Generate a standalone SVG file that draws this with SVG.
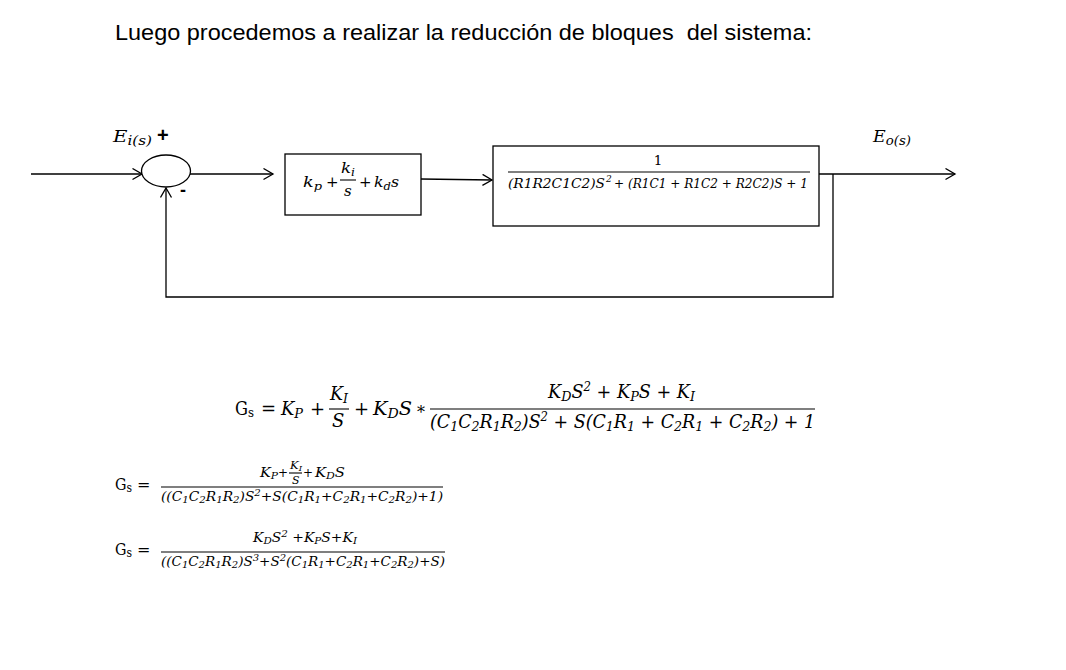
<svg xmlns="http://www.w3.org/2000/svg" width="1066" height="670" viewBox="0 0 1066 670">
<defs>
<marker id="ah" markerUnits="userSpaceOnUse" markerWidth="12" markerHeight="13" refX="10.5" refY="6" orient="auto">
<path d="M1,0.5 L10.5,6 L1,11.5" fill="none" stroke="#000" stroke-width="1.3"/>
</marker>
</defs>
<style>
.t{font-family:"Liberation Sans",Arial,sans-serif;fill:#000}
.m{font-family:"DejaVu Serif","Liberation Serif",serif;font-style:italic;fill:#000}
.u{font-style:normal}
.ln{stroke:#000;stroke-width:1.3;fill:none}
.fr{stroke:#000;stroke-width:1.1}
.box{fill:#fff;stroke:#000;stroke-width:1.3}
</style>
<rect width="1066" height="670" fill="#fff"/>

<text class="t" x="115" y="40" font-size="22" textLength="697" lengthAdjust="spacingAndGlyphs" style="white-space:pre">Luego procedemos a realizar la reducción de bloques  del sistema:</text>

<g id="connectors">
<line class="ln" x1="31" y1="174" x2="142" y2="174" marker-end="url(#ah)"/>
<line class="ln" x1="190" y1="174" x2="273" y2="174" marker-end="url(#ah)"/>
<line class="ln" x1="421" y1="179" x2="492" y2="180" marker-end="url(#ah)"/>
<line class="ln" x1="819" y1="174" x2="955" y2="174" marker-end="url(#ah)"/>
<polyline class="ln" points="833,174 833,297 166,297 166,188" marker-end="url(#ah)"/>
</g>

<g id="sum">
<ellipse cx="166" cy="171" rx="24.5" ry="16" fill="#fff" stroke="#000" stroke-width="1.3"/>
<text class="t" x="157" y="142" font-size="20" font-weight="bold">+</text>
<text class="t" x="180" y="196" font-size="18" font-weight="bold">-</text>
</g>

<g id="label-in">
<text class="m" x="113" y="142" font-size="17" textLength="39" lengthAdjust="spacingAndGlyphs">E<tspan font-size="13" dy="3">i(s)</tspan></text>
</g>
<g id="label-out">
<text class="m" x="873" y="142" font-size="17" textLength="38" lengthAdjust="spacingAndGlyphs">E<tspan font-size="13" dy="3">o(s)</tspan></text>
</g>

<g id="block1">
<rect class="box" x="285" y="154" width="136" height="61"/>
<text class="m" x="303" y="187" font-size="15" textLength="19" lengthAdjust="spacingAndGlyphs">k<tspan font-size="11" dy="3">p</tspan></text>
<text class="m u" x="326" y="187" font-size="15">+</text>
<text class="m" x="341" y="173" font-size="15" textLength="14" lengthAdjust="spacingAndGlyphs">k<tspan font-size="11" dy="3">i</tspan></text>
<line class="fr" x1="340" y1="180" x2="356" y2="180"/>
<text class="m" x="344" y="196" font-size="15">s</text>
<text class="m u" x="359" y="187" font-size="15">+</text>
<text class="m" x="374" y="187" font-size="15" textLength="25" lengthAdjust="spacingAndGlyphs">k<tspan font-size="11" dy="3">d</tspan><tspan dy="-3">s</tspan></text>
</g>

<g id="block2">
<rect class="box" x="493" y="146" width="326" height="80"/>
<text class="m u" x="658" y="165" font-size="13.5" text-anchor="middle">1</text>
<line class="fr" x1="508" y1="172" x2="810" y2="172"/>
<text class="m" x="508" y="188" font-size="13.5" textLength="97" lengthAdjust="spacingAndGlyphs">(R1R2C1C2)S</text>
<text class="m" x="606" y="182" font-size="9">2</text>
<text class="m" x="614" y="188" font-size="13.5" textLength="194" lengthAdjust="spacingAndGlyphs">+ (R1C1 + R1C2 + R2C2)S + 1</text>
</g>

<g id="eq1">
<text class="m u" x="235" y="415" font-size="18" textLength="19" lengthAdjust="spacingAndGlyphs">G<tspan font-size="13" dy="2">s</tspan></text>
<text class="m u" x="261" y="415" font-size="18">=</text>
<text class="m" x="281" y="415" font-size="18" textLength="22" lengthAdjust="spacingAndGlyphs">K<tspan font-size="13" dy="3">P</tspan></text>
<text class="m u" x="310" y="415" font-size="18">+</text>
<text class="m" x="330" y="400" font-size="18" textLength="18" lengthAdjust="spacingAndGlyphs">K<tspan font-size="13" dy="3">I</tspan></text>
<line class="fr" x1="329" y1="409" x2="349" y2="409"/>
<text class="m" x="332" y="427" font-size="18">S</text>
<text class="m u" x="354" y="415" font-size="18">+</text>
<text class="m" x="373" y="415" font-size="18" textLength="39" lengthAdjust="spacingAndGlyphs">K<tspan font-size="13" dy="3">D</tspan><tspan dy="-3">S</tspan></text>
<text class="m u" x="417" y="418" font-size="16">*</text>
<text class="m" x="548" y="398" font-size="18" textLength="147" lengthAdjust="spacingAndGlyphs">K<tspan font-size="13" dy="3">D</tspan><tspan dy="-3">S</tspan><tspan font-size="12" dy="-7">2</tspan><tspan dy="7"> + K</tspan><tspan font-size="13" dy="3">P</tspan><tspan dy="-3">S + K</tspan><tspan font-size="13" dy="3">I</tspan></text>
<line class="fr" x1="430" y1="409" x2="815" y2="409"/>
<text class="m" x="430" y="428" font-size="18" textLength="385" lengthAdjust="spacingAndGlyphs">(C<tspan font-size="13" dy="3">1</tspan><tspan dy="-3">C</tspan><tspan font-size="13" dy="3">2</tspan><tspan dy="-3">R</tspan><tspan font-size="13" dy="3">1</tspan><tspan dy="-3">R</tspan><tspan font-size="13" dy="3">2</tspan><tspan dy="-3">)S</tspan><tspan font-size="12" dy="-7">2</tspan><tspan dy="7"> + S(C</tspan><tspan font-size="13" dy="3">1</tspan><tspan dy="-3">R</tspan><tspan font-size="13" dy="3">1</tspan><tspan dy="-3"> + C</tspan><tspan font-size="13" dy="3">2</tspan><tspan dy="-3">R</tspan><tspan font-size="13" dy="3">1</tspan><tspan dy="-3"> + C</tspan><tspan font-size="13" dy="3">2</tspan><tspan dy="-3">R</tspan><tspan font-size="13" dy="3">2</tspan><tspan dy="-3">) + 1</tspan></text>
</g>

<g id="eq2">
<text class="m u" x="115" y="490" font-size="16" textLength="17" lengthAdjust="spacingAndGlyphs">G<tspan font-size="12" dy="2">s</tspan></text>
<text class="m u" x="137" y="490" font-size="16">=</text>
<text class="m" x="260" y="477" font-size="13.5" textLength="18" lengthAdjust="spacingAndGlyphs">K<tspan font-size="10" dy="2">P</tspan></text>
<text class="m u" x="278" y="477" font-size="13" textLength="10" lengthAdjust="spacingAndGlyphs">+</text>
<text class="m" x="290" y="469" font-size="11" textLength="12" lengthAdjust="spacingAndGlyphs">K<tspan font-size="8" dy="2">I</tspan></text>
<line class="fr" x1="289" y1="473" x2="302" y2="473" stroke-width="0.9"/>
<text class="m" x="292" y="484" font-size="11">S</text>
<text class="m u" x="303" y="477" font-size="13" textLength="10" lengthAdjust="spacingAndGlyphs">+</text>
<text class="m" x="315" y="477" font-size="13.5" textLength="30" lengthAdjust="spacingAndGlyphs">K<tspan font-size="10" dy="2">D</tspan><tspan dy="-2">S</tspan></text>
<line class="fr" x1="161" y1="487" x2="443" y2="487"/>
<text class="m" x="161" y="501" font-size="13.5" textLength="282" lengthAdjust="spacingAndGlyphs">((C<tspan font-size="10" dy="2">1</tspan><tspan dy="-2">C</tspan><tspan font-size="10" dy="2">2</tspan><tspan dy="-2">R</tspan><tspan font-size="10" dy="2">1</tspan><tspan dy="-2">R</tspan><tspan font-size="10" dy="2">2</tspan><tspan dy="-2">)S</tspan><tspan font-size="10" dy="-5">2</tspan><tspan dy="5">+S(C</tspan><tspan font-size="10" dy="2">1</tspan><tspan dy="-2">R</tspan><tspan font-size="10" dy="2">1</tspan><tspan dy="-2">+C</tspan><tspan font-size="10" dy="2">2</tspan><tspan dy="-2">R</tspan><tspan font-size="10" dy="2">1</tspan><tspan dy="-2">+C</tspan><tspan font-size="10" dy="2">2</tspan><tspan dy="-2">R</tspan><tspan font-size="10" dy="2">2</tspan><tspan dy="-2">)+1)</tspan></text>
</g>

<g id="eq3">
<text class="m u" x="115" y="555" font-size="16" textLength="17" lengthAdjust="spacingAndGlyphs">G<tspan font-size="12" dy="2">s</tspan></text>
<text class="m u" x="137" y="555" font-size="16">=</text>
<text class="m" x="253" y="542" font-size="13.5" textLength="104" lengthAdjust="spacingAndGlyphs">K<tspan font-size="10" dy="2">D</tspan><tspan dy="-2">S</tspan><tspan font-size="10" dy="-5">2</tspan><tspan dy="5"> +K</tspan><tspan font-size="10" dy="2">P</tspan><tspan dy="-2">S+K</tspan><tspan font-size="10" dy="2">I</tspan></text>
<line class="fr" x1="161" y1="552" x2="445" y2="552"/>
<text class="m" x="161" y="566" font-size="13.5" textLength="284" lengthAdjust="spacingAndGlyphs">((C<tspan font-size="10" dy="2">1</tspan><tspan dy="-2">C</tspan><tspan font-size="10" dy="2">2</tspan><tspan dy="-2">R</tspan><tspan font-size="10" dy="2">1</tspan><tspan dy="-2">R</tspan><tspan font-size="10" dy="2">2</tspan><tspan dy="-2">)S</tspan><tspan font-size="10" dy="-5">3</tspan><tspan dy="5">+S</tspan><tspan font-size="10" dy="-5">2</tspan><tspan dy="5">(C</tspan><tspan font-size="10" dy="2">1</tspan><tspan dy="-2">R</tspan><tspan font-size="10" dy="2">1</tspan><tspan dy="-2">+C</tspan><tspan font-size="10" dy="2">2</tspan><tspan dy="-2">R</tspan><tspan font-size="10" dy="2">1</tspan><tspan dy="-2">+C</tspan><tspan font-size="10" dy="2">2</tspan><tspan dy="-2">R</tspan><tspan font-size="10" dy="2">2</tspan><tspan dy="-2">)+S)</tspan></text>
</g>
</svg>
